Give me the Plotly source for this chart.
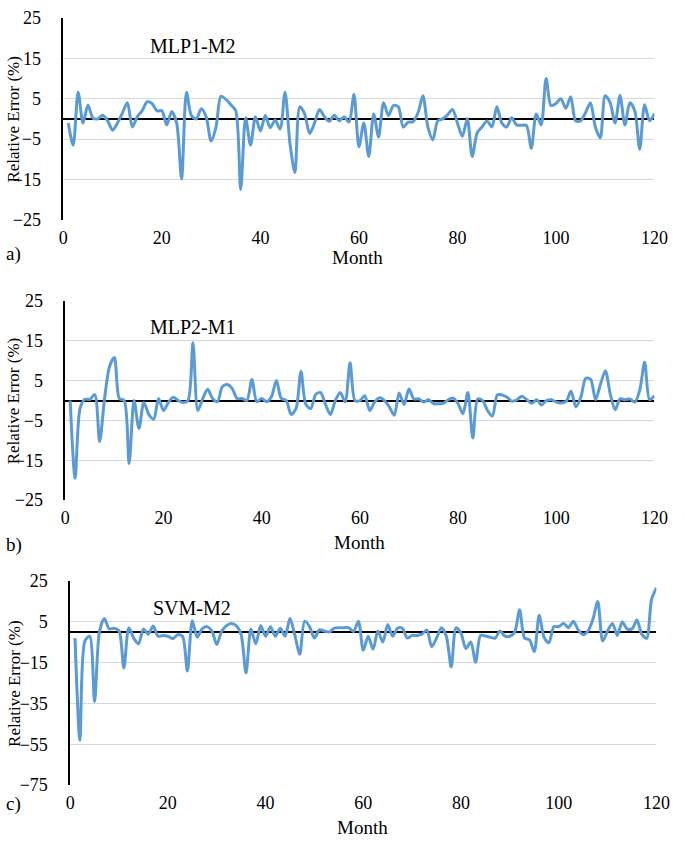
import plotly.graph_objects as go

# months 1..120
months = list(range(1, 121))

# relative error (%)
mlp1_m2 = [
    -1, -6.5, 6.6, -1, 3.4, 0.2, 0, 0.9, -0.5, -2.8,
    -1, 1.5, 4, -2, 0.5, 2, 4.2, 3.8, 2, 2,
    -1.5, 1.8, -1, -14.8, 6.6, 0.8, 0, 2.5, 0.5, -5.5,
    -2, 5.6, 4.8, 3.5, 2, -17.5, 0.3, -6.5, 0.5, -3,
    0.8, -2.2, -0.3, -2.5, 6.6, -6, -13.3, 3, 1.2, -3.6,
    -1, 2.3, 0.5, -0.6, 0.9, -0.5, 0.5, -0.8, 6, -6.9,
    -1, -9.3, 1.2, -4.5, 4, 0.8, 3.3, 3, -2, -0.8,
    -0.7, 1.5, 5.7, -2, -5.2, -0.5, 0, 1, 2.3, -1,
    -4.3, 0, -9.3, -3.5, -2, -0.5, -2, 3, -1, -2,
    0.3, -1.5, -1.6, -1.6, -7.3, 1.2, -1.5, 10, 3.3, 3.8,
    5, 2.6, 5.5, -0.5, -0.5, 1.5, 4, -2, -4.7, 5.7,
    4, -1, 5.8, -1.5, 4, 2, -7.5, 3.5, -0.5, 1.3,
]

mlp2_m1 = [
    0, -19.5, -2, 0.3, 0.3, 1.5, -10.3, 0.5, 8.5, 10.8,
    0.5, 0, -15.8, 0, -7, -0.5, -3.5, -4.7, 0.5, -2.5,
    -0.5, 0.8, 0, -0.5, 0, 14.5, -2.5, 0.5, 2.8, 0.5,
    -0.3, 3.5, 4, 3, 0.5, 0.5, 0, 5.3, -0.3, 0.5,
    -0.3, 1, 5, 0.5, 0, -3.5, -2, 7.3, -1, -2,
    1.5, 2, -1, -3.5, 0, 2, -0.3, 9.5, 0, 0,
    1.2, -2.5, -0.4, 0.7, 0, -1.6, -3.7, 1.9, -1, 2.9,
    0.4, 0.4, -0.4, 0.2, -0.8, -0.8, -0.7, 0.2, 0.6, -0.8,
    -3.3, 2, -9.4, 0.4, 0, -2.5, -3.9, 1.4, 1.4, 0.8,
    -0.2, 0.2, 1.1, 0.2, -0.7, 0.2, -1.1, 0, 0.2, -0.4,
    -0.6, -0.2, 2.3, -1.6, 0.8, 5.6, 5.3, 0.2, 4.1, 7.5,
    1.6, -2.3, 0.4, 0.2, 0.4, -0.4, 2.6, 9.6, 0.2, 1.2,
]

svm_m2 = [
    -2.9, -53, -4.4, -2, -34, 0.3, 6.7, 1.6, 1.9, 0.6,
    -17.6, 2.2, -2.9, -5.7, 1.6, -1, 3, -2, -1.6, -2,
    -3.2, -1.3, -2, -19, 5.6, -2.5, 1.6, 2.7, 0.6, -6,
    0.3, 3.2, 4.3, 3.2, -1.3, -20, 1.6, -5.7, 3.2, -2,
    2.7, -2, 1.9, -2, 6.7, -1.6, -10.8, 5.4, 2.7, -2.9,
    1.1, 0.6, 0, 1.9, 2.2, 2.2, 2.2, 0.3, 5.4, -8.9,
    -2, -8.4, 0.6, -4.8, 3.8, -2, 1.9, 1.9, -2.9, -1.6,
    -1.6, -1, 1.1, -7.1, -2.9, 2.2, -2, -17, 2.2, -0.5,
    -8, -4.8, -14.8, -1.6, -1.9, -2.5, -2.9, 0.6, -2, -2,
    0, 11, -2.9, -3.7, -9.5, 8.3, -2.5, -5.2, 2.7, 2.7,
    4.3, 2.2, 5.4, 1.1, -1.3, 0.6, 6.3, 15, -4.4, 0.6,
    4.3, -1.6, 5, 1.6, 1.6, 5.9, -1, -3, 16, 21.7,
]

panel_names = ["MLP1-M2", "MLP2-M1", "SVM-M2"]
panel_tags = ["a)", "b)", "c)"]
x_ticks = [0, 20, 40, 60, 80, 100, 120]

W, H = 685, 844
FONT = "Liberation Serif, Times New Roman, serif"
BLUE = "#5B9BD5"


def px(x, y):
    """pixel position -> paper coords"""
    return x / W, 1 - y / H


def label(txt, x, y, size=19, angle=0):
    ax, ay = px(x, y)
    return dict(text=txt, x=ax, y=ay, xref="paper", yref="paper",
                xanchor="center", yanchor="middle", showarrow=False,
                textangle=angle, font=dict(family=FONT, size=size,
                                           color="black"))


# plot boxes in pixels: (left, right, top, bottom)
boxes = [(60, 668, 8, 215), (62, 668, 298, 502), (67, 670, 585, 794)]
y_ranges = [(-25, 25, -25, 10), (-25, 25, -25, 10), (-75, 25, -75, 20)]
series = [mlp1_m2, mlp2_m1, svm_m2]
name_pos = [(193, 37), (193, 325), (192, 613)]
month_pos = [(363, 253), (365, 545), (368, 837)]
tag_pos = [(9, 250), (9, 548), (9, 813)]

fig = go.Figure()
annos = []
for i in range(3):
    l, r, t, b = boxes[i]
    n = "" if i == 0 else str(i + 1)
    fig.add_trace(go.Scatter(
        x=months, y=series[i], mode="lines", xaxis="x" + n, yaxis="y" + n,
        line=dict(color=BLUE, width=3, shape="spline", smoothing=0.8),
        showlegend=False, hoverinfo="skip"))
    ylo, yhi, t0, dt = y_ranges[i]
    fig.update_layout({
        "xaxis" + n: dict(
            domain=[l / W, r / W], anchor="y" + n, range=[0, 120],
            tickvals=x_ticks, showgrid=False, zeroline=False, showline=False,
            ticks="", ticklabelstandoff=5,
            tickfont=dict(family=FONT, size=18, color="black")),
        "yaxis" + n: dict(
            domain=[1 - b / H, 1 - t / H], anchor="x" + n, range=[ylo, yhi],
            tick0=t0, dtick=dt, showgrid=True, gridcolor="#D9D9D9",
            gridwidth=1.2, zeroline=True, zerolinecolor="black",
            zerolinewidth=1.5, showline=True, linecolor="black", linewidth=1.5,
            ticks="", ticklabelstandoff=17,
            tickfont=dict(family=FONT, size=18, color="black")),
    })
    annos.append(label(panel_names[i], *name_pos[i], size=20))
    annos.append(label("Month", *month_pos[i]))
    annos.append(label(panel_tags[i], *tag_pos[i]))
    annos.append(label("Relative Error (%)", 9, (t + b) / 2, 17, -90))

fig.update_layout(
    width=W, height=H, margin=dict(l=0, r=0, t=0, b=0),
    paper_bgcolor="white", plot_bgcolor="white", annotations=annos)

fig.write_html("out.html", config={"displayModeBar": False},
               post_script="document.body.style.margin='0';"
                           "document.body.style.overflow='hidden';")
